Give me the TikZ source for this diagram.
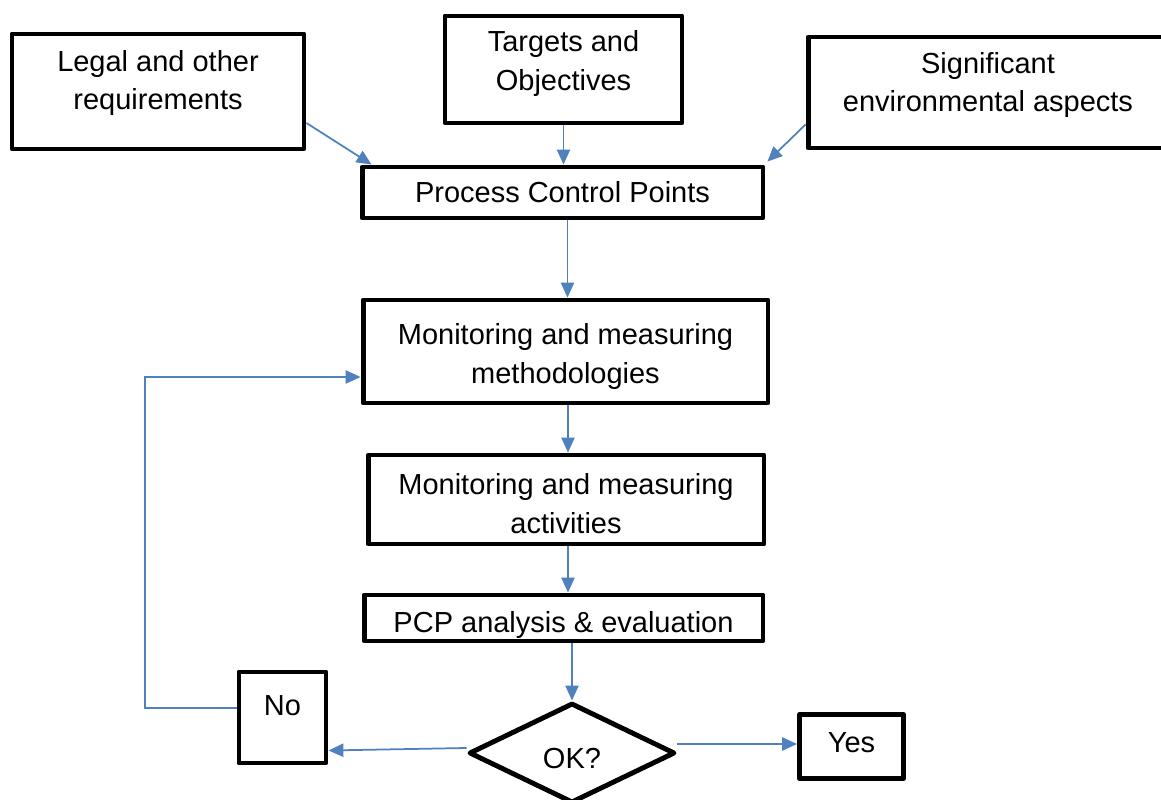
\documentclass[tikz,border=0pt]{standalone}
\usepackage{fontspec}
\setmainfont{Liberation Sans}
\usetikzlibrary{arrows.meta,shapes.geometric}
\definecolor{flowblue}{RGB}{79,129,189}
\begin{document}
\begin{tikzpicture}[x=0.02cm,y=-0.02cm,
    box/.style={draw,line width=2.8pt,line join=round,inner sep=0pt,align=center,
      font=\fontsize{16.5}{22}\selectfont},
    lift/.style={text depth=#1},
    drop/.style={text height=#1},
    flow/.style={draw=flowblue,line width=1pt,-{Triangle[length=8.5pt,width=7.5pt]}}]
      \useasboundingbox (0,0) rectangle (1161,800);

      % Inputs
      \node[box,lift=13pt,minimum width=5.84cm,minimum height=2.3cm] (legal) at (158,91.5) {Legal and other\\requirements};
      \node[box,lift=10pt,minimum width=4.74cm,minimum height=2.14cm] (targets) at (563.5,69.5) {Targets and\\Objectives};
      \node[box,lift=12pt,minimum width=7.2cm,minimum height=2.22cm] (aspects) at (988,92.5) {Significant\\environmental aspects};

      % Main column
      \node[box,minimum width=8.02cm,minimum height=1.02cm] (pcp) at (562.5,192.5) {Process Control Points};
      \node[box,drop=40pt,minimum width=8.1cm,minimum height=2.06cm] (methods) at (565.5,351.5) {Monitoring and measuring\\methodologies};
      \node[box,drop=39pt,minimum width=7.92cm,minimum height=1.78cm] (activities) at (566,499.5) {Monitoring and measuring\\activities};
      \node[box,drop=20pt,minimum width=7.98cm,minimum height=0.92cm] (analysis) at (563.5,618) {PCP analysis \& evaluation};

      % Decision
      \node[box,diamond,drop=17.5pt,minimum width=4.12cm,minimum height=2cm] (ok) at (572,753) {OK?};
      \node[box,lift=14pt,minimum width=1.74cm,minimum height=1.82cm] (no) at (282.5,717.5) {No};
      \node[box,lift=4pt,minimum width=2.08cm,minimum height=1.28cm] (yes) at (851.5,746.5) {Yes};
      \coordinate (back) at (145,377);

      % Arrows
      \draw[flow] ([yshift=-0.63cm]legal.east) -- ([xshift=0.24cm]pcp.north west);
      \draw[flow] (targets.south) -- (targets.south |- pcp.north);
      \draw[flow] ([yshift=-0.64cm]aspects.west) -- ([xshift=0.04cm,yshift=0.06cm]pcp.north east);
      \draw[flow] ([xshift=0.1cm]pcp.south) -- ([xshift=0.1cm]pcp.south |- methods.north);
      \draw[flow] ([xshift=0.05cm]methods.south) -- ([xshift=0.05cm]methods.south |- activities.north);
      \draw[flow] ([xshift=0.04cm]activities.south) -- ([xshift=0.04cm]activities.south |- analysis.north);
      \draw[flow] (ok.north |- analysis.south) -- (ok.north);
      \draw[flow] ([yshift=0.1cm]ok.west) -- ([yshift=-0.66cm]no.east);
      \draw[flow] ([yshift=0.18cm]ok.east) -- ([yshift=0.18cm]ok.east -| yes.west);
      \draw[flow] ([yshift=0.19cm]no.west) -| (back) -- (back -| methods.west);
\end{tikzpicture}
\end{document}
